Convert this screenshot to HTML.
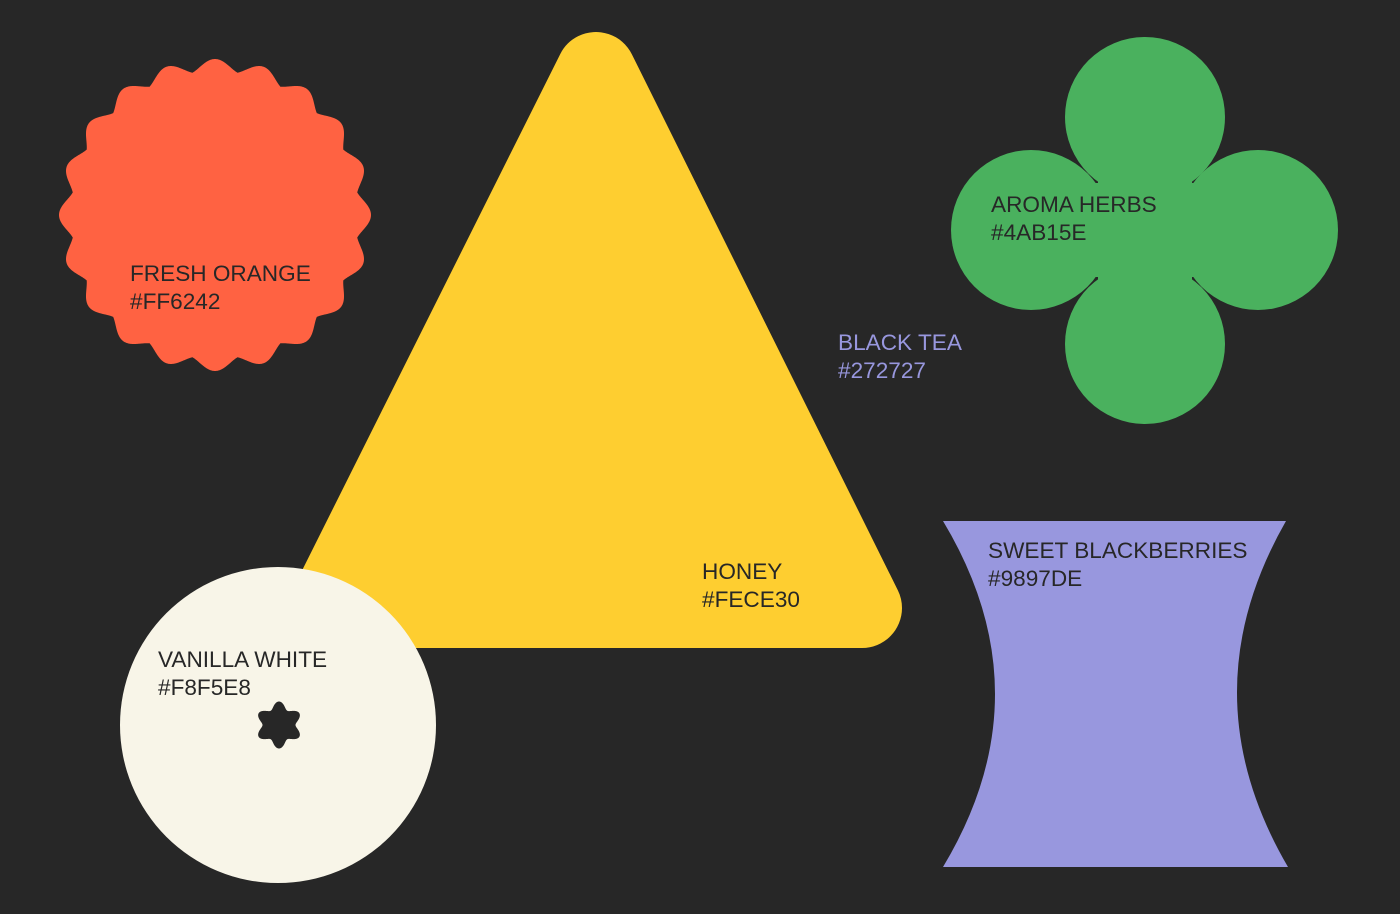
<!DOCTYPE html>
<html><head><style>
html,body{margin:0;padding:0;background:#272727;}
svg{display:block}
text{font-family:"Liberation Sans",sans-serif;font-size:22.6px;}
</style></head><body>
<svg id="s" width="1400" height="914" viewBox="0 0 1400 914">
<rect width="1400" height="914" fill="#272727"/>
<path id="orange" fill="#FF6242" d=""/>
<polygon points="596,72 328,608 862,608" fill="#FECE30" stroke="#FECE30" stroke-width="80" stroke-linejoin="round"/>
<g fill="#4AB15E">
<circle cx="1145" cy="117" r="80"/><circle cx="1145" cy="344" r="80"/>
<circle cx="1031" cy="230" r="80"/><circle cx="1258" cy="230" r="80"/>
<rect x="1098" y="170" width="94" height="120"/>
<rect x="1085" y="183" width="120" height="94"/>
</g>
<path d="M943 521 L1286 521 Q1187 694 1288 867 L943 867 Q1047 694 943 521 Z" fill="#9897DE"/>
<circle cx="278" cy="725" r="158" fill="#F8F5E8"/>
<path id="star" fill="#272727" d=""/>
<g fill="#272727">
<text x="130" y="281">FRESH ORANGE</text><text x="130" y="309">#FF6242</text>
<text x="702" y="579">HONEY</text><text x="702" y="607">#FECE30</text>
<text x="991" y="212">AROMA HERBS</text><text x="991" y="240">#4AB15E</text>
<text x="988" y="558">SWEET BLACKBERRIES</text><text x="988" y="586">#9897DE</text>
<text x="158" y="667">VANILLA WHITE</text><text x="158" y="695">#F8F5E8</text>
</g>
<g fill="#9897DE"><text x="838" y="350">BLACK TEA</text><text x="838" y="378">#272727</text></g>
</svg>
<script>
function wavy(cx,cy,r0,a,n,steps,sc){let d="";for(let i=0;i<=steps;i++){let t=i/steps*2*Math.PI;let c=Math.cos(n*t);let w=sc?(0.5*c+0.5*(2*Math.abs(Math.cos(n*t/2))-1)):c;let r=r0+a*w;let x=cx+r*Math.sin(t),y=cy-r*Math.cos(t);d+=(i?"L":"M")+x.toFixed(2)+" "+y.toFixed(2);}return d+"Z";}
document.getElementById("orange").setAttribute("d",wavy(215,215,150,6,20,1440,true));
document.getElementById("star").setAttribute("d",wavy(279,725,20,3.5,6,360,false));
</script>
</body></html>
